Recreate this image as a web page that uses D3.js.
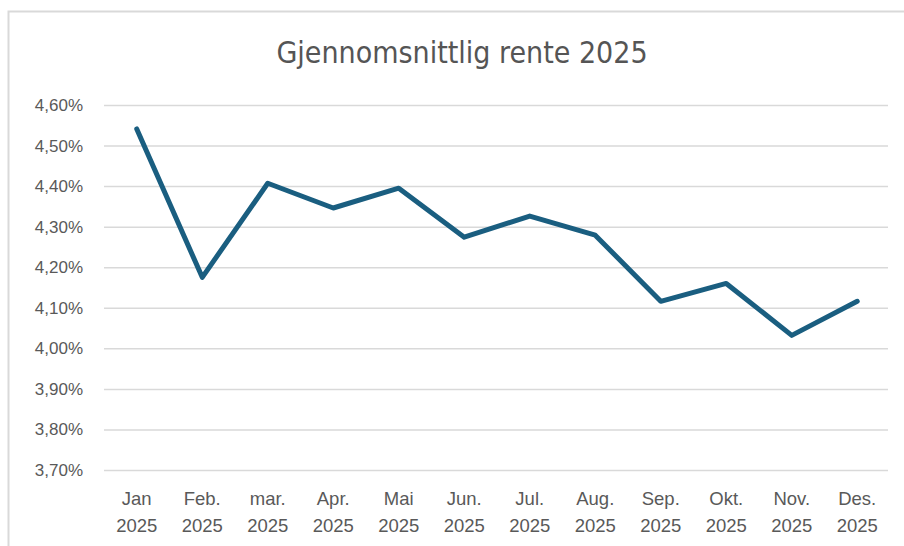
<!DOCTYPE html>
<html>
<head>
<meta charset="utf-8">
<script src="https://cdn.jsdelivr.net/npm/d3@7"></script>
<style>
  body { margin: 0; background: #fff; }
  svg { display: block; }
  .grid line { stroke: #d9d9d9; stroke-width: 1.5; }
  .grid path { display: none; }
</style>
</head>
<body>
<svg id="canvas"></svg>
<script>
const width = 904;
const height = 546;

// data
const months = ['Jan', 'Feb.', 'mar.', 'Apr.', 'Mai', 'Jun.', 'Jul.', 'Aug.', 'Sep.', 'Okt.', 'Nov.', 'Des.'];
const years = ['2025', '2025', '2025', '2025', '2025', '2025', '2025', '2025', '2025', '2025', '2025', '2025'];
const rates = [4.541, 4.175, 4.407, 4.346, 4.395, 4.274, 4.326, 4.279, 4.116, 4.160, 4.032, 4.116];
const yTicks = [3.7, 3.8, 3.9, 4.0, 4.1, 4.2, 4.3, 4.4, 4.5, 4.6];
const title = 'Gjennomsnittlig rente 2025';

const svg = d3.select('#canvas')
    .attr('width', width)
    .attr('height', height);

// chart frame (runs off the right/bottom edge)
svg.append('rect')
    .attr('x', 8.5)
    .attr('y', 11.5)
    .attr('width', width + 20)
    .attr('height', height + 20)
    .attr('fill', 'none')
    .attr('stroke', '#d9d9d9')
    .attr('stroke-width', 2);

svg.append('text')
    .attr('x', 462)
    .attr('y', 63)
    .attr('text-anchor', 'middle')
    .attr('font-family', '"DejaVu Sans Condensed", "Liberation Sans", sans-serif')
    .attr('font-size', 30)
    .attr('fill', '#555555')
    .text(title);

const x = d3.scaleBand()
    .domain(months)
    .range([104, 890]);

const y = d3.scaleLinear()
    .domain([3.7, 4.6])
    .range([470, 105]);

// gridlines
svg.append('g')
    .attr('class', 'grid')
    .attr('transform', 'translate(104,0)')
    .call(d3.axisLeft(y).tickValues(yTicks).tickSize(-784).tickFormat(''));

// y labels
const fmt = d3.format('.2f');
svg.append('g')
    .selectAll('text')
    .data(yTicks)
    .join('text')
    .attr('x', 83)
    .attr('y', d => y(d))
    .attr('dy', '0.35em')
    .attr('text-anchor', 'end')
    .attr('font-family', '"Liberation Sans", Arial, sans-serif')
    .attr('font-size', 17)
    .attr('fill', '#595959')
    .text(d => fmt(d).replace('.', ',') + '%');

// x labels
const xl = svg.append('g')
    .selectAll('text')
    .data(months)
    .join('text')
    .attr('x', d => x(d) + x.bandwidth() / 2)
    .attr('y', 505)
    .attr('text-anchor', 'middle')
    .attr('font-family', '"Liberation Sans", Arial, sans-serif')
    .attr('font-size', 18.5)
    .attr('fill', '#595959');
xl.append('tspan')
    .text(d => d);
xl.append('tspan')
    .attr('x', d => x(d) + x.bandwidth() / 2)
    .attr('dy', 27)
    .text((d, i) => years[i]);

// line
const line = d3.line()
    .x((d, i) => x(months[i]) + x.bandwidth() / 2)
    .y(d => y(d));

svg.append('path')
    .datum(rates)
    .attr('fill', 'none')
    .attr('stroke', '#1a5e80')
    .attr('stroke-width', 5)
    .attr('stroke-linejoin', 'round')
    .attr('stroke-linecap', 'round')
    .attr('d', line);
</script>
</body>
</html>
